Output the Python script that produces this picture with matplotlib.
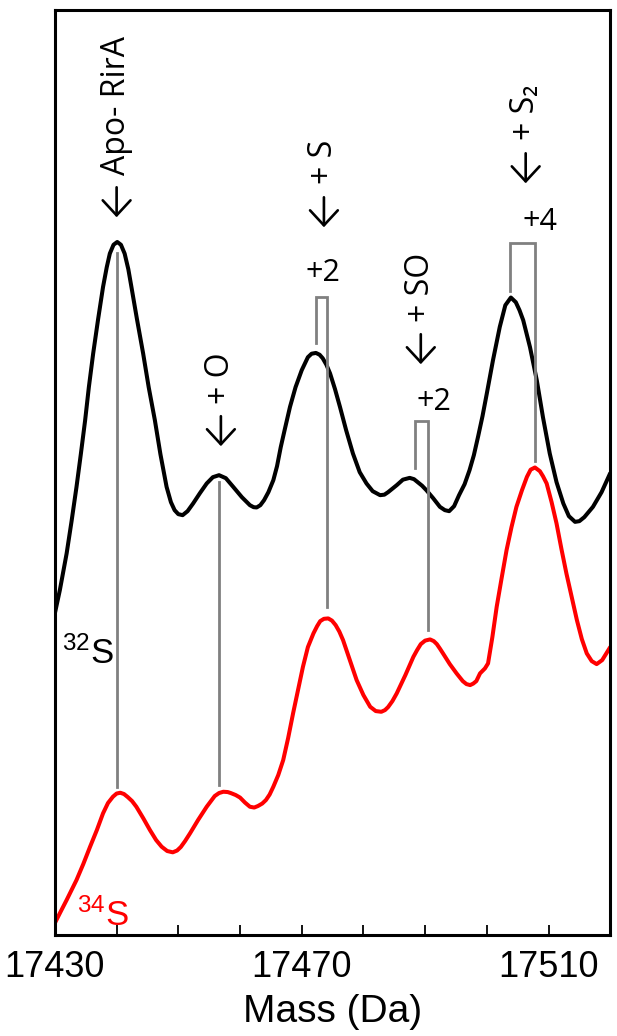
import matplotlib
matplotlib.use("Agg")
import matplotlib.pyplot as plt

# ---------------------------------------------------------------------------
# Spectra (mass in Da, intensity in arbitrary units)
# ---------------------------------------------------------------------------

mass_32s = [17430.0, 17430.8, 17431.9, 17432.7, 17433.5, 17434.2, 17434.9, 17435.5,
            17436.2, 17437.0, 17437.8, 17438.4, 17438.9, 17439.5, 17440.1, 17440.7,
            17441.3, 17441.9, 17442.4, 17443.3, 17444.3, 17445.2, 17446.2, 17447.1,
            17448.1, 17448.8, 17449.4, 17450.0, 17450.7, 17451.5, 17452.4, 17453.5,
            17454.6, 17455.6, 17456.6, 17457.7, 17458.9, 17460.3, 17461.6, 17462.2,
            17462.7, 17463.3, 17463.9, 17464.6, 17465.4, 17466.0, 17466.6, 17467.3,
            17468.1, 17469.0, 17470.0, 17471.0, 17471.6, 17472.3, 17472.9, 17473.4,
            17474.0, 17474.6, 17475.4, 17476.2, 17477.2, 17478.3, 17479.4, 17480.5,
            17481.5, 17482.7, 17483.4, 17484.0, 17484.7, 17485.4, 17486.4, 17487.5,
            17488.2, 17488.8, 17489.5, 17490.2, 17491.3, 17492.4, 17493.2, 17493.9,
            17494.7, 17495.5, 17496.4, 17497.2, 17497.9, 17498.6, 17499.3, 17500.0,
            17501.0, 17502.1, 17503.0, 17503.9, 17504.7, 17505.3, 17505.9, 17507.0,
            17508.1, 17509.1, 17510.2, 17511.3, 17512.4, 17513.3, 17514.3, 17515.0,
            17515.8, 17517.2, 17518.6, 17520.0]
int_32s = [322, 345, 381.7, 414, 448.3, 481, 515, 548,
           581.7, 616, 648.3, 668, 681.7, 690.5, 693.3, 690.5,
           681.7, 666, 648.3, 616, 581.7, 548, 515, 481,
           448.3, 433, 425, 421, 420, 424, 431.7, 442,
           451.7, 458, 460, 457, 448.3, 438, 430, 428,
           427.7, 430, 435, 443, 455, 469, 488, 507,
           528.3, 548, 565, 578, 581.5, 582.3, 580.5, 577,
           570.5, 561.7, 546, 528.3, 505, 481.7, 463, 451.7,
           444, 440, 440.5, 443, 446.5, 450, 455.5, 457.3,
           456, 453, 449.5, 445, 437, 428.3, 425, 424,
           429, 440, 451, 465, 480, 499, 519, 541.7,
           575, 608.3, 630, 637.7, 633, 625, 615, 588,
           555, 518, 481.7, 453, 431.7, 419, 413.3, 414,
           418, 428.3, 443, 462]

mass_34s = [17430.0, 17430.9, 17431.9, 17432.7, 17433.5, 17434.6, 17435.7, 17436.8,
            17437.8, 17438.6, 17439.4, 17440.0, 17440.6, 17441.2, 17441.8, 17442.5,
            17443.2, 17444.3, 17445.4, 17446.4, 17447.3, 17448.2, 17449.1, 17449.8,
            17450.4, 17451.1, 17451.9, 17453.2, 17454.6, 17455.9, 17456.6, 17457.3,
            17458.0, 17458.5, 17459.3, 17460.0, 17460.8, 17461.6, 17462.3, 17462.9,
            17463.6, 17464.2, 17464.8, 17465.4, 17466.2, 17467.0, 17467.8, 17468.6,
            17469.4, 17470.2, 17471.0, 17471.9, 17472.5, 17473.0, 17473.6, 17474.3,
            17474.9, 17475.5, 17476.1, 17476.7, 17477.8, 17478.9, 17480.0, 17481.1,
            17482.0, 17482.9, 17483.5, 17484.0, 17484.7, 17485.4, 17486.8, 17488.1,
            17488.7, 17489.3, 17490.0, 17490.8, 17491.4, 17491.9, 17492.4, 17492.9,
            17494.0, 17495.1, 17496.1, 17496.7, 17497.3, 17497.8, 17498.3, 17498.9,
            17499.7, 17500.2, 17500.9, 17501.6, 17502.4, 17503.2, 17504.0, 17504.8,
            17505.7, 17506.5, 17507.1, 17507.8, 17508.6, 17509.1, 17509.7, 17510.5,
            17511.3, 17512.1, 17512.9, 17513.8, 17514.6, 17515.4, 17516.2, 17517.0,
            17517.8, 17518.7, 17520.0]
int_34s = [12, 23, 35, 45, 55, 71, 88.3, 105,
           121.7, 132, 138.3, 141.5, 142.3, 141, 138, 134,
           128.3, 117, 105, 95, 88.3, 84, 82.7, 84.5,
           88, 94, 101.7, 115, 128.3, 139, 142, 143.3,
           143, 142, 140, 137.5, 132.5, 128.3, 127.5, 129,
           131.5, 135, 140.5, 148.3, 160, 175, 197, 221.7,
           245, 268.3, 288, 301.7, 309, 314, 316.3, 316.7,
           314.5, 310, 303.5, 295, 275, 255, 240, 228.3,
           224, 223.3, 225, 228, 234, 241.7, 260, 278.3,
           285, 291, 294.5, 295.7, 294, 291, 286.5, 281.7,
           271, 261.7, 254, 251, 250, 251.5, 254, 261.7,
           266.7, 271.7, 298, 328.3, 357, 385, 408, 428.3,
           445, 458.3, 465.5, 467.7, 464, 459, 451.7, 433,
           411.7, 386, 361.7, 337, 315, 296, 281.7, 274,
           271, 275, 288]

# single tie lines 32S peak -> 34S peak (no mass shift)
tie_mass = [17440.1, 17456.6]
tie_top = [682, 453]
tie_bottom = [148, 150]

# bracket tie lines (32S peak -> shifted 34S peak)
br_left = [17472.3, 17488.3, 17503.7]
br_right = [17474.1, 17490.5, 17507.8]
br_left_bottom = [592, 467, 644]
br_top = [638, 514, 692]
br_right_bottom = [328, 305, 474]
br_labels = ["+2", "+2", "+4"]
br_label_x = [17473.4, 17491.5, 17508.7]
br_label_y = [662, 533, 713]

# peak assignments (rotated labels, arrow points at the peak)
peak_labels = ["Apo- RirA", "+ O", "+ S", "+ SO", "+ S\u2082"]
peak_label_x = [17440.0, 17456.9, 17473.6, 17489.3, 17506.3]
arrow_tip = [718, 489, 708, 571, 752]
arrow_tail = [748, 519, 738, 601, 782]
text_bottom = [760, 531, 751, 613, 795]

GRAY = "#808080"
RED = "#ff0000"
LABEL_FONT = ["Open Sans", "DejaVu Sans"]

plt.rcParams["font.family"] = ["Liberation Sans", "DejaVu Sans"]
plt.rcParams["mathtext.fontset"] = "custom"
plt.rcParams["mathtext.rm"] = "Liberation Sans"

fig = plt.figure(figsize=(6.17, 10.36), dpi=100)
ax = fig.add_axes([0.089, 0.0975, 0.9, 0.8925])

ax.plot(mass_32s, int_32s, color="black", lw=2.9, zorder=2,
        solid_capstyle="round", solid_joinstyle="round")
ax.plot(mass_34s, int_34s, color=RED, lw=2.9, zorder=2,
        solid_capstyle="round", solid_joinstyle="round")

for m, t, b in zip(tie_mass, tie_top, tie_bottom):
    ax.plot([m, m], [b, t], color=GRAY, lw=2.0, zorder=3)

for l, r, lb, top, rb in zip(br_left, br_right, br_left_bottom, br_top, br_right_bottom):
    ax.plot([l, l, r, r], [lb, top, top, rb], color=GRAY, lw=2.0, zorder=3,
            solid_joinstyle="miter")

for lab, x, y in zip(br_labels, br_label_x, br_label_y):
    ax.text(x, y, lab, ha="center", va="center", fontsize=22, family=LABEL_FONT)

for lab, x, tip, tail, yt in zip(peak_labels, peak_label_x, arrow_tip, arrow_tail, text_bottom):
    ax.annotate("", xy=(x, tip), xytext=(x, tail),
                arrowprops=dict(arrowstyle="->,head_length=0.54,head_width=0.5",
                                mutation_scale=20, lw=1.9, color="black",
                                shrinkA=0, shrinkB=0))
    ax.text(x, yt, lab, rotation=90, ha="center", va="bottom", fontsize=23,
            family=LABEL_FONT)

ax.text(17431.2, 282, r"$\mathrm{^{32}S}$", fontsize=25, color="black",
        ha="left", va="center")
ax.text(17433.6, 19, r"$\mathrm{^{34}S}$", fontsize=25, color=RED,
        ha="left", va="center")

ax.set_xlim(17430, 17520)
ax.set_ylim(0, 925)
ax.set_yticks([])
ax.set_xticks([17430, 17470, 17510])
ax.set_xticks(range(17430, 17521, 10), minor=True)
ax.tick_params(axis="x", which="both", direction="in", length=7, width=1.3,
               labelsize=26, pad=11)
ax.set_xlabel("Mass (Da)", fontsize=28, labelpad=6)
for s in ax.spines.values():
    s.set_linewidth(2.2)

fig.savefig("out.png", dpi=100)
